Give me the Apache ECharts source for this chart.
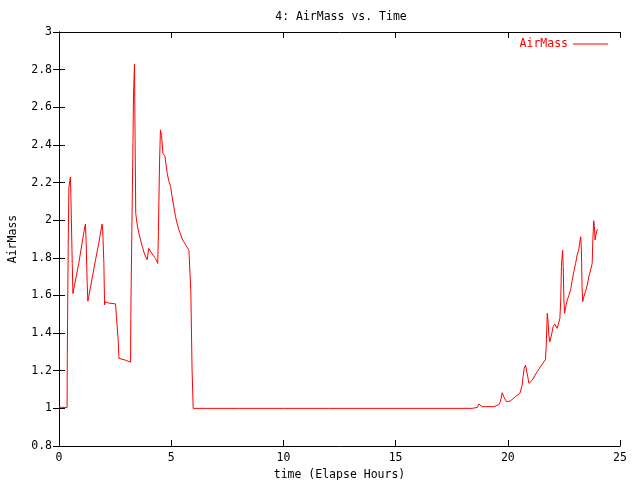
<!DOCTYPE html>
<html>
<head>
<meta charset="utf-8">
<script src="https://cdn.jsdelivr.net/npm/echarts@6/dist/echarts.min.js"></script>
<style>
html,body{margin:0;padding:0;background:#fff;}
#chart{width:640px;height:480px;}
</style>
</head>
<body>
<div id="chart"></div>
<script>
var times = [0.00,0.10,0.17,0.36,0.37,0.41,0.44,0.48,0.51,0.54,0.59,0.62,0.66,0.88,1.03,1.15,1.18,1.21,1.255,1.285,1.32,1.63,1.77,1.92,1.95,2.00,2.03,2.07,2.20,2.52,2.56,2.64,2.67,3.00,3.19,3.20,3.245,3.29,3.32,3.365,3.39,3.42,3.48,3.56,3.71,3.81,3.93,3.96,4.00,4.15,4.30,4.40,4.43,4.48,4.52,4.57,4.63,4.72,4.82,4.89,4.97,5.04,5.12,5.19,5.27,5.34,5.49,5.64,5.79,5.86,5.875,5.93,5.98,8.0,10.0,12.0,14.0,16.0,18.41,18.64,18.71,18.86,19.38,19.42,19.60,19.67,19.75,19.82,19.94,20.12,20.19,20.34,20.42,20.54,20.61,20.64,20.68,20.73,20.79,20.83,20.89,20.94,21.09,21.31,21.53,21.68,21.71,21.76,21.79,21.83,21.87,21.93,22.02,22.09,22.20,22.32,22.36,22.39,22.44,22.47,22.50,22.53,22.58,22.65,22.72,22.80,22.87,22.94,23.02,23.09,23.16,23.20,23.25,23.28,23.31,23.34,23.38,23.46,23.54,23.61,23.69,23.76,23.79,23.83,23.86,23.89,23.92,23.95,23.98,24.01];
var airmass = [1.01,1.005,1.00,1.005,1.29,1.86,2.17,2.21,2.23,2.07,1.77,1.61,1.62,1.77,1.88,1.965,1.98,1.886,1.67,1.57,1.59,1.79,1.877,1.98,1.94,1.77,1.55,1.566,1.56,1.555,1.487,1.36,1.266,1.255,1.245,1.478,1.94,2.34,2.665,2.83,2.44,2.036,1.98,1.93,1.86,1.82,1.79,1.78,1.85,1.82,1.797,1.77,1.94,2.30,2.48,2.45,2.355,2.34,2.25,2.21,2.18,2.125,2.07,2.02,1.98,1.95,1.90,1.87,1.84,1.83,1.62,1.204,1.00,1.00,1.00,1.00,1.00,1.00,1.00,1.005,1.023,1.009,1.009,1.014,1.02,1.035,1.083,1.062,1.035,1.04,1.05,1.062,1.07,1.08,1.09,1.124,1.168,1.213,1.23,1.204,1.168,1.133,1.15,1.195,1.234,1.26,1.328,1.505,1.47,1.39,1.354,1.38,1.434,1.448,1.425,1.478,1.576,1.753,1.84,1.753,1.576,1.505,1.54,1.576,1.60,1.63,1.68,1.726,1.77,1.815,1.84,1.877,1.912,1.84,1.647,1.567,1.59,1.62,1.655,1.70,1.735,1.77,1.895,1.997,1.965,1.895,1.92,1.91,1.948,1.95];
var seriesName = 'AirMass';
var titleText = '4: AirMass vs. Time';
var xName = 'time (Elapse Hours)';
var yName = 'AirMass';

var FONT = 'DejaVu Sans Mono';
var points = times.map(function (t, i) { return [t, airmass[i]]; });

var chart = echarts.init(document.getElementById('chart'), null, {renderer: 'canvas'});
var axisLine = {show: true, lineStyle: {color: '#000', width: 1}};
var tick = {show: true, inside: true, length: 6, lineStyle: {color: '#000', width: 1}};
chart.setOption({
  animation: false,
  backgroundColor: '#fff',
  title: {
    text: titleText, left: 336, top: 6, textAlign: 'center',
    textStyle: {fontFamily: FONT, fontSize: 11.5, fontWeight: 'normal', color: '#000'}
  },
  legend: {
    data: [seriesName], right: 27, top: 33, align: 'right',
    icon: 'rect', itemWidth: 35, itemHeight: 1,
    textStyle: {fontFamily: FONT, fontSize: 11.5, color: '#ff0000'}
  },
  grid: {left: 59, right: 20, top: 32, bottom: 34, containLabel: false, outerBoundsMode: 'none'},
  xAxis: [{
    type: 'value', min: 0, max: 25, interval: 5,
    name: xName, nameLocation: 'middle', nameGap: 19,
    nameTextStyle: {fontFamily: FONT, fontSize: 11.5, color: '#000'},
    axisLine: axisLine, axisTick: tick, splitLine: {show: false},
    axisLabel: {fontFamily: FONT, fontSize: 11.5, color: '#000', margin: 6}
  }, {
    type: 'value', min: 0, max: 25, interval: 5, position: 'top',
    axisLine: axisLine, axisTick: tick, splitLine: {show: false},
    axisLabel: {show: false}
  }],
  yAxis: [{
    type: 'value', min: 0.8, max: 3, interval: 0.2,
    name: yName, nameLocation: 'middle', nameGap: 40,
    nameTextStyle: {fontFamily: FONT, fontSize: 11.5, color: '#000'},
    axisLine: axisLine, axisTick: tick, splitLine: {show: false},
    axisLabel: {fontFamily: FONT, fontSize: 11.5, color: '#000', margin: 7,
      formatter: function (v) { return String(Math.round(v * 10) / 10); }}
  }, {
    type: 'value', min: 0.8, max: 3, interval: 0.2, position: 'right',
    axisLine: axisLine, axisTick: tick, splitLine: {show: false},
    axisLabel: {show: false}
  }],
  series: [{
    name: seriesName, type: 'line', data: points,
    xAxisIndex: 0, yAxisIndex: 0,
    showSymbol: false, symbol: 'none',
    lineStyle: {color: '#ff0000', width: 1},
    itemStyle: {color: '#ff0000'}
  }]
});
</script>
</body>
</html>
